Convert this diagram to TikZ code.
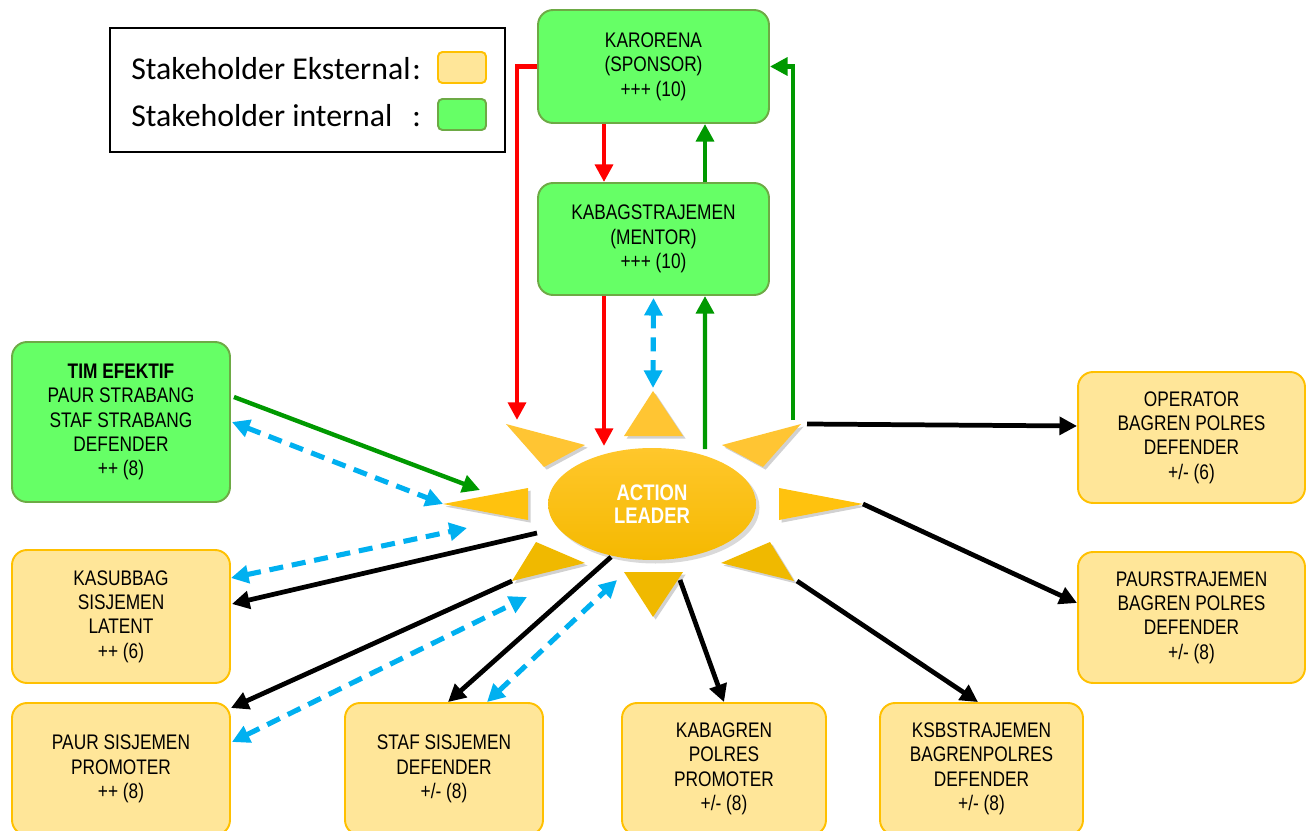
\documentclass[tikz,border=0pt]{standalone}
\usepackage{fontspec}
\setmainfont{Liberation Sans}[FakeStretch=0.82]
\newfontfamily\legendfont{Carlito}
\usetikzlibrary{arrows.meta,calc,shapes.geometric,shadows}
\definecolor{gfill}{HTML}{66FF66}
\definecolor{gline}{HTML}{6DAA45}
\definecolor{yfill}{HTML}{FFE699}
\definecolor{yline}{HTML}{FFC000}
\definecolor{sunA}{HTML}{FFC72C}
\definecolor{sunB}{HTML}{F5B900}
\definecolor{rayTop}{HTML}{FFC533}
\definecolor{rayMid}{HTML}{FFC20E}
\definecolor{rayBot}{HTML}{F0B900}
\definecolor{cyanarr}{HTML}{00B0F0}
\definecolor{redarr}{HTML}{FF0000}
\definecolor{grnarr}{HTML}{009900}
\begin{document}
\begin{tikzpicture}[x=0.02cm,y=-0.02cm,
  boxtxt/.style={font=\fontsize{12}{13.9}\selectfont},
  box/.style={rounded corners=8.5pt, line width=1.1pt, align=center, inner sep=0pt, boxtxt},
  intbox/.style={box, draw=gline, fill=gfill},
  extbox/.style={box, draw=yline, fill=yfill},
  arrhead/.style={-{Triangle[length=10pt,width=10pt]}},
  redconn/.style={draw=redarr, line width=2.5pt, arrhead},
  grnconn/.style={draw=grnarr, line width=2.5pt, arrhead},
  blkconn/.style={draw=black, line width=2.7pt, arrhead},
  cyanconn/.style={draw=cyanarr, line width=2.9pt, dash pattern=on 8pt off 5pt,
     {Triangle[length=10pt,width=10pt]}-{Triangle[length=10pt,width=10pt]}},
  rayshadow/.style={drop shadow={shadow xshift=1.5pt,shadow yshift=-1.5pt,opacity=0.18,fill=black}},
]
\useasboundingbox (0,0) rectangle (1315,831);
\clip (0,0) rectangle (1315,831);

% legend
\node[draw, line width=1.4pt, minimum width=7.9cm, minimum height=2.48cm, inner sep=0pt] (legend) at (307.5,90) {};
\node[anchor=base west, inner sep=0pt, font=\legendfont\fontsize{18.1}{21}\selectfont] (lg1) at (131,80) {\makebox[160pt][l]{Stakeholder Eksternal}:};
\node[anchor=base west, inner sep=0pt, font=\legendfont\fontsize{18.1}{21}\selectfont] (lg2) at (131,127) {\makebox[160pt][l]{Stakeholder internal}:};
\node[draw=yline, fill=yfill, rounded corners=2.5pt, line width=1.1pt, minimum width=0.96cm, minimum height=0.62cm, inner sep=0pt] (swY) at (462,67.5) {};
\node[draw=gline, fill=gfill, rounded corners=2.5pt, line width=1.1pt, minimum width=0.96cm, minimum height=0.62cm, inner sep=0pt] (swG) at (462,114.5) {};

% boxes
\node[intbox, minimum width=4.62cm, minimum height=2.26cm] (karo) at (653.5,66.5) {KARORENA\\(SPONSOR)\\+++ (10)};
\node[intbox, minimum width=4.62cm, minimum height=2.24cm] (kabag) at (653.5,239) {KABAGSTRAJEMEN\\(MENTOR)\\+++ (10)};
\node[intbox, minimum width=4.36cm, minimum height=3.2cm] (tim) at (121,422) {\textbf{TIM EFEKTIF}\\PAUR STRABANG\\STAF STRABANG\\DEFENDER\\++ (8)};
\node[extbox, minimum width=4.36cm, minimum height=2.66cm] (kasub) at (121,616.5) {KASUBBAG\\SISJEMEN\\LATENT\\++ (6)};
\node[extbox, minimum width=4.36cm, minimum height=2.64cm] (paur) at (121,769) {PAUR SISJEMEN\\PROMOTER\\++ (8)};
\node[extbox, minimum width=3.96cm, minimum height=2.64cm] (staf) at (444,769) {STAF SISJEMEN\\DEFENDER\\+/- (8)};
\node[extbox, minimum width=4.08cm, minimum height=2.64cm] (kbgr) at (724,769) {KABAGREN\\POLRES\\PROMOTER\\+/- (8)};
\node[extbox, minimum width=4.06cm, minimum height=2.64cm] (ksb) at (981.5,769) {KSBSTRAJEMEN\\BAGRENPOLRES\\DEFENDER\\+/- (8)};
\node[extbox, minimum width=4.54cm, minimum height=2.62cm] (opr) at (1191.5,437.5) {OPERATOR\\BAGREN POLRES\\DEFENDER\\+/- (6)};
\node[extbox, minimum width=4.54cm, minimum height=2.62cm] (paurs) at (1191.5,617.5) {PAURSTRAJEMEN\\BAGREN POLRES\\DEFENDER\\+/- (8)};

% sun rays
\fill[rayTop, rayshadow] (653,391) -- (624,436) -- (683,436) -- cycle;
\fill[rayTop, rayshadow] (506,424) -- (585,445) -- (544,467) -- cycle;
\fill[rayTop, rayshadow] (801,424) -- (722,445) -- (763,467) -- cycle;
\fill[rayMid, rayshadow] (443,504) -- (528,488) -- (528,520) -- cycle;
\fill[rayMid, rayshadow] (863,504) -- (779,488) -- (779,520) -- cycle;
\fill[rayBot, rayshadow] (536,542) -- (585,563) -- (512,581) -- cycle;
\fill[rayBot, rayshadow] (770,542) -- (721,563) -- (794,581) -- cycle;
\fill[rayBot, rayshadow] (624,572) -- (683,572) -- (653,617) -- cycle;

% sun
\node[ellipse, minimum width=4.16cm, minimum height=2.24cm, inner sep=0pt,
  top color=sunA, bottom color=sunB, draw=none,
  drop shadow={shadow xshift=2pt,shadow yshift=-2pt,opacity=0.15,fill=black},
  align=center, text=white, font=\bfseries\fontsize{12.8}{13}\selectfont] (sun) at (652,504) {ACTION\\LEADER};

% free-end coordinates
\coordinate (rT) at (653,388);
\coordinate (rL) at (443,504);
\coordinate (rR) at (863,504);
\coordinate (rLL) at (512,581);
\coordinate (rLR) at (797,581);
\coordinate (redin) at (517,420);
\coordinate (redin2) at (604,446);
\coordinate (grA) at (705,449);
\coordinate (grB) at (793,420);
\coordinate (grC) at (480,490);
\coordinate (cyA) at (467,528);
\coordinate (cyB) at (527,597);
\coordinate (cyC) at (617,580);
\coordinate (bkO) at (807,424);
\coordinate (bkK) at (680,580);
\coordinate (bkS) at (611,557);
\coordinate (bkU) at (537,533);

% red connectors
\draw[redconn] (karo.west) -| (redin);
\draw[redconn] ($(karo.south)+(-49.5,0)$) -- ($(kabag.north)+(-49.5,0)$);
\draw[redconn] ($(kabag.south)+(-49.5,0)$) -- (redin2);

% green connectors
\draw[grnconn] (grA) -- ($(kabag.south)+(51.5,0)$);
\draw[grnconn] ($(kabag.north)+(51.5,0)$) -- ($(karo.south)+(51.5,0)$);
\draw[grnconn] (grB) |- (karo.east);
\draw[grnconn] ($(tim.east)+(3,-25)$) -- (grC);

% cyan connectors
\draw[cyanconn] ($(kabag.south)+(0,2)$) -- (rT);
\draw[cyanconn] ($(tim.east)+(1,0)$) -- (rL);
\draw[cyanconn] ($(kasub.east)+(0,-38.5)$) -- (cyA);
\draw[cyanconn] ($(paur.east)+(1,-27)$) -- (cyB);
\draw[cyanconn] ($(staf.north)+(43,0)$) -- (cyC);

% black connectors
\draw[blkconn] (bkO) -- ($(opr.west)+(0,-11.5)$);
\draw[blkconn] (rR) -- ($(paurs.west)+(0,-14.5)$);
\draw[blkconn] (rLR) -- ($(ksb.north)+(-3.5,0)$);
\draw[blkconn] (bkK) -- (kbgr.north);
\draw[blkconn] (bkS) -- ($(staf.north)+(4,0)$);
\draw[blkconn] (rLL) -- ($(paur.east)+(0,-61)$);
\draw[blkconn] (bkU) -- ($(kasub.east)+(1,-12.5)$);
\end{tikzpicture}
\end{document}
